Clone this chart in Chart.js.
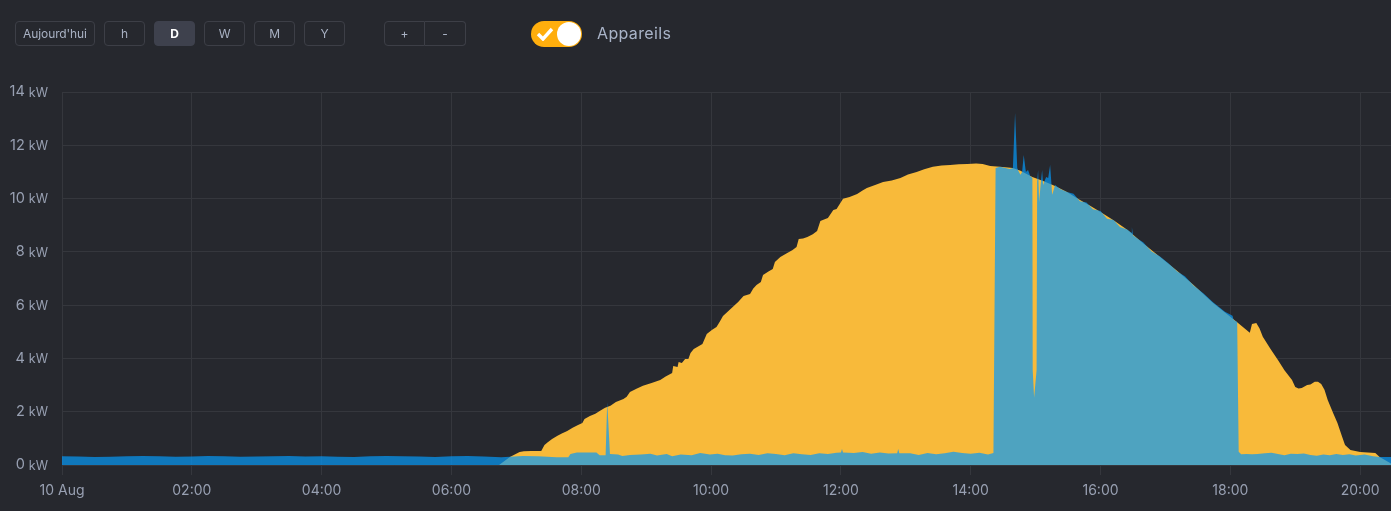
<!DOCTYPE html>
<html>
<head>
<meta charset="utf-8">
<title>Appareils</title>
<script src="https://cdn.jsdelivr.net/npm/chart.js@4"></script>
<style>
  html, body { margin: 0; padding: 0; background: #26282e; overflow: hidden; }
  body { width: 1391px; height: 511px; position: relative; font-family: Inter, "Noto Sans", sans-serif; }
  canvas { position: absolute; left: 0; top: 0; display: block; }
  .btn { position: absolute; top: 21px; height: 25px; line-height: 24px; box-sizing: border-box; text-align: center;
         border: 1px solid #3d3f47; border-radius: 4px; color: #a9b2c4; font-size: 12px; letter-spacing: -0.1px; }
  .btn.on { background: #3e414d; border-color: #3e414d; color: #fff; font-weight: 700; }
  .btn.left { border-radius: 4px 0 0 4px; }
  .btn.right { border-radius: 0 4px 4px 0; border-left: 0; }
  .toggle { position: absolute; left: 531px; top: 21px; width: 51px; height: 26px; border-radius: 13px; background: #ffae0d; }
  .knob { position: absolute; left: 26px; top: 1px; width: 24px; height: 24px; border-radius: 50%; background: #fff; }
  .toggle svg { position: absolute; left: 5px; top: 6px; }
  .label { position: absolute; left: 597px; top: 23px; font-size: 16px; line-height: 20px; color: #a9b4c8; letter-spacing: 0.35px; }
</style>
</head>
<body>
<canvas id="chart" width="1391" height="511"></canvas>
<div class="btn" style="left:15px;width:80px">Aujourd'hui</div>
<div class="btn" style="left:104px;width:41px">h</div>
<div class="btn on" style="left:154px;width:41px">D</div>
<div class="btn" style="left:204px;width:41px">W</div>
<div class="btn" style="left:254px;width:41px">M</div>
<div class="btn" style="left:304px;width:41px">Y</div>
<div class="btn left" style="left:384px;width:41px">+</div>
<div class="btn right" style="left:425px;width:41px">-</div>
<div class="toggle">
  <svg width="18" height="14" viewBox="0 0 18 14"><path d="M2 7 L7 12 L16 2" fill="none" stroke="#fff" stroke-width="3.4"/></svg>
  <div class="knob"></div>
</div>
<div class="label">Appareils</div>

<script>
// x axis is minutes since midnight, ticks every two hours
const timeLabels = ['10 Aug', '02:00', '04:00', '06:00', '08:00', '10:00', '12:00', '14:00', '16:00', '18:00', '20:00'];
const kwTicks = [0, 2, 4, 6, 8, 10, 12, 14];

// Solar production
const solarMinutes = [404, 414, 423, 427, 434, 443, 446, 449, 453, 458, 462, 467, 472, 477, 481, 483, 488, 493, 497, 502, 507, 512, 519, 522, 525, 531, 537, 545, 553, 558, 564, 565, 569, 570, 573, 576, 579, 581, 584, 588, 592, 596, 601, 605, 608, 611, 615, 620, 625, 630, 636, 639, 642, 646, 648, 653, 657, 659, 664, 670, 675, 679, 681, 685, 689, 694, 698, 701, 705, 708, 713, 716, 722, 728, 735, 740, 744, 751, 759, 767, 775, 782, 790, 797, 805, 813, 821, 829, 837, 845, 851, 858, 867, 879, 886, 897, 907, 918, 929, 941, 950, 960, 972, 985, 999, 1015, 1031, 1046, 1064, 1086, 1098, 1100, 1104, 1107, 1110, 1117, 1124, 1130, 1137, 1140, 1143, 1146, 1151, 1154, 1158, 1161, 1164, 1167, 1170, 1175, 1179, 1183, 1186, 1191, 1200, 1214, 1218, 1231];
const solarKw = [0, 0.30, 0.49, 0.52, 0.53, 0.53, 0.75, 0.85, 0.98, 1.10, 1.18, 1.28, 1.40, 1.50, 1.58, 1.73, 1.84, 1.92, 2.03, 2.15, 2.22, 2.36, 2.48, 2.56, 2.74, 2.86, 2.97, 3.08, 3.19, 3.32, 3.45, 3.72, 3.68, 3.87, 3.83, 3.98, 3.98, 4.20, 4.35, 4.45, 4.54, 4.92, 5.08, 5.18, 5.38, 5.59, 5.74, 5.93, 6.12, 6.34, 6.42, 6.62, 6.76, 6.87, 7.13, 7.26, 7.36, 7.62, 7.81, 7.95, 8.06, 8.18, 8.48, 8.50, 8.56, 8.66, 8.78, 9.16, 9.22, 9.27, 9.57, 9.61, 9.99, 10.06, 10.17, 10.30, 10.40, 10.50, 10.62, 10.68, 10.77, 10.90, 11.0, 11.10, 11.19, 11.24, 11.26, 11.29, 11.30, 11.32, 11.30, 11.22, 11.19, 11.15, 11.04, 10.81, 10.66, 10.47, 10.25, 9.95, 9.74, 9.50, 9.19, 8.82, 8.33, 7.81, 7.28, 6.76, 6.08, 5.37, 4.96, 5.29, 5.33, 5.12, 4.81, 4.36, 3.94, 3.56, 3.19, 2.93, 2.87, 2.89, 3.00, 3.02, 3.12, 3.12, 3.04, 2.82, 2.44, 1.95, 1.58, 1.10, 0.75, 0.56, 0.49, 0.45, 0.30, 0];

// Home consumption
const homeMinutes = [0, 15, 30, 45, 60, 75, 90, 105, 120, 135, 150, 165, 180, 195, 210, 225, 240, 255, 270, 285, 300, 315, 330, 345, 360, 375, 390, 406, 426, 440, 457, 468, 470, 476, 494, 497, 502.5, 504, 506.5, 514, 518, 525, 535, 544, 550, 559, 564, 572, 582, 590, 599, 606, 613, 620, 628, 636, 644, 652, 660, 668, 676, 684, 692, 700, 708, 716, 720, 721, 722, 732, 740, 748, 756, 764, 772, 773, 774, 784, 792, 800, 808, 816, 824, 832, 840, 848, 856, 861, 863, 867, 876, 879, 880, 881, 882, 883, 884, 886, 887.5, 889, 891, 893, 895, 897, 897.3, 898.6, 900.9, 901.4, 902.3, 903.2, 904.6, 906, 906.9, 909.7, 911.6, 913.4, 915.3, 918, 922.7, 929, 935, 941, 947, 953, 960, 966, 972, 978, 984.6, 988.5, 989, 990, 995, 999.4, 1007, 1015, 1023, 1031, 1038, 1046, 1055, 1064, 1075, 1082, 1083, 1086.3, 1087.7, 1090, 1095, 1100, 1105, 1112, 1118, 1124, 1130, 1136, 1142, 1148, 1154, 1160, 1166, 1172, 1178, 1184, 1190, 1196, 1204, 1212, 1218, 1232];
const homeKw = [0.33, 0.32, 0.30, 0.31, 0.33, 0.34, 0.33, 0.31, 0.32, 0.34, 0.33, 0.31, 0.32, 0.33, 0.34, 0.32, 0.33, 0.31, 0.30, 0.33, 0.34, 0.33, 0.32, 0.30, 0.33, 0.34, 0.32, 0.29, 0.34, 0.33, 0.29, 0.29, 0.41, 0.47, 0.47, 0.37, 0.37, 2.36, 0.41, 0.39, 0.34, 0.38, 0.39, 0.42, 0.36, 0.41, 0.33, 0.39, 0.37, 0.45, 0.39, 0.42, 0.37, 0.36, 0.40, 0.42, 0.38, 0.44, 0.41, 0.37, 0.44, 0.40, 0.38, 0.44, 0.41, 0.46, 0.47, 0.60, 0.47, 0.45, 0.49, 0.42, 0.47, 0.43, 0.44, 0.60, 0.44, 0.44, 0.38, 0.45, 0.40, 0.44, 0.50, 0.45, 0.42, 0.46, 0.39, 0.45, 11.15, 11.19, 11.11, 11.15, 12.2, 13.21, 12.2, 11.15, 11.04, 10.89, 11.0, 11.64, 11.0, 11.07, 10.85, 10.77, 3.57, 2.52, 3.57, 10.62, 11.07, 9.87, 10.51, 11.07, 10.51, 10.81, 10.77, 11.26, 10.14, 10.51, 10.36, 10.25, 10.18, 9.90, 9.85, 9.60, 9.53, 9.24, 9.20, 8.93, 8.84, 8.72, 8.92, 8.62, 8.47, 8.36, 8.02, 7.83, 7.56, 7.26, 7.08, 6.74, 6.45, 6.11, 5.75, 5.60, 5.45, 5.37, 0.50, 0.40, 0.41, 0.40, 0.41, 0.44, 0.46, 0.41, 0.37, 0.42, 0.41, 0.43, 0.38, 0.35, 0.39, 0.37, 0.41, 0.38, 0.40, 0.36, 0.39, 0.33, 0.30, 0.30];

const toPoints = (xs, ys) => xs.map((x, i) => ({ x, y: ys[i] }));

const gridColor = '#35373d';
const tickColor = '#98a0b2';

// y labels have a larger number and a smaller unit, which ticks can't do on their own
const kwLabels = {
  id: 'kwLabels',
  afterDraw(chart) {
    const { ctx, scales: { y } } = chart;
    ctx.save();
    ctx.fillStyle = tickColor;
    ctx.textAlign = 'right';
    ctx.textBaseline = 'middle';
    y.ticks.forEach(tick => {
      const py = y.getPixelForValue(tick.value);
      ctx.font = '12.5px Inter';
      ctx.fillText('kW', 48, py + 1);
      const unitWidth = ctx.measureText('kW').width;
      ctx.font = '14.5px Inter';
      ctx.fillText(String(tick.value), 48 - unitWidth - 4, py);
    });
    ctx.restore();
  }
};

new Chart(document.getElementById('chart'), {
  type: 'line',
  data: {
    datasets: [{
      // first dataset is painted last, so consumption sits over the solar area
      label: 'Consommation',
      data: toPoints(homeMinutes, homeKw),
      backgroundColor: 'rgba(5, 154, 250, 0.7)',
      borderWidth: 0,
      pointRadius: 0,
      tension: 0,
      fill: 'origin'
    }, {
      label: 'Production',
      data: toPoints(solarMinutes, solarKw),
      backgroundColor: '#f8ba3a',
      borderWidth: 0,
      pointRadius: 0,
      tension: 0,
      fill: 'origin'
    }]
  },
  options: {
    responsive: false,
    animation: false,
    layout: { padding: { top: 92, right: 0, left: 0, bottom: 0 } },
    plugins: { legend: { display: false }, tooltip: { enabled: false } },
    scales: {
      x: {
        type: 'linear',
        min: 0,
        max: 1228.5,
        afterFit: scale => { scale.height = 46; },
        grid: { color: gridColor, tickLength: 10 },
        border: { color: gridColor },
        ticks: {
          stepSize: 120,
          includeBounds: false,
          autoSkip: false,
          maxRotation: 0,
          padding: 7,
          color: tickColor,
          font: { family: 'Inter', size: 14 },
          callback: value => timeLabels[value / 120]
        }
      },
      y: {
        min: 0,
        max: 14,
        afterFit: scale => { scale.width = 62; },
        afterBuildTicks: scale => { scale.ticks = kwTicks.map(value => ({ value })); },
        grid: { color: gridColor, drawTicks: false },
        border: { color: gridColor },
        ticks: { display: false }
      }
    }
  },
  plugins: [kwLabels]
});
</script>
</body>
</html>
